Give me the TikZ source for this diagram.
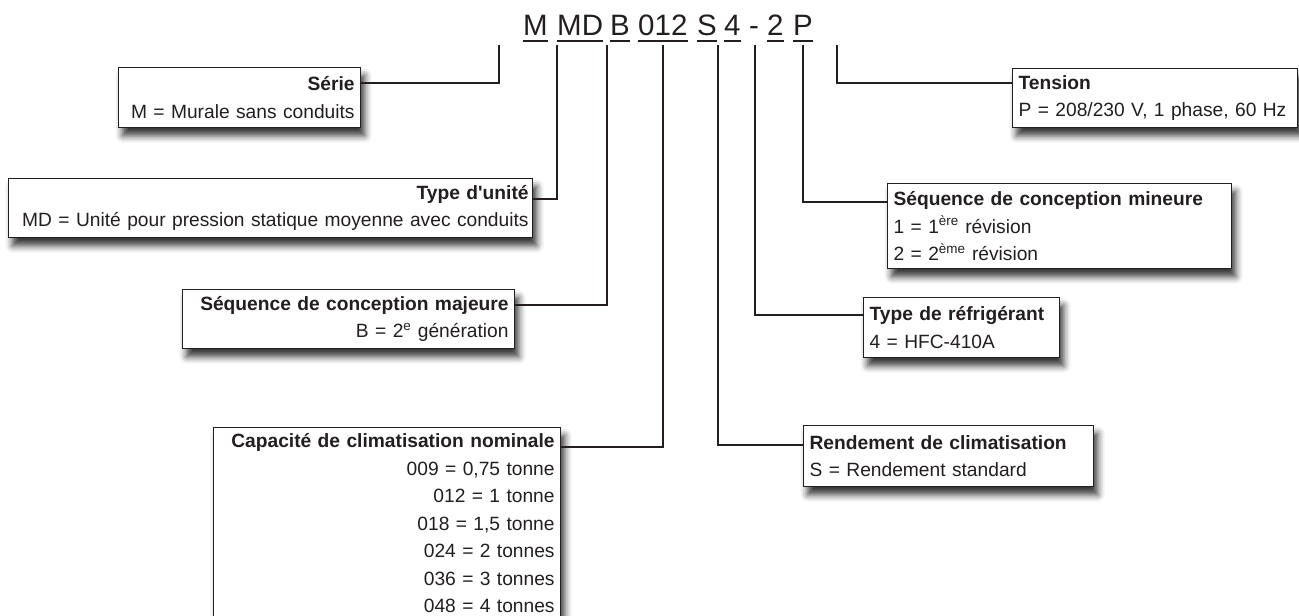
\documentclass[tikz,border=0pt]{standalone}
\usepackage{fontspec}
\setmainfont{Liberation Sans}
\usetikzlibrary{shadows.blur}
\definecolor{ink}{HTML}{231F20}

\begin{document}
\begin{tikzpicture}[x=1pt, y=-1pt,
    box/.style={draw=ink, line width=1.2pt, fill=white, text=ink, anchor=north west,
        inner xsep=6pt, inner ysep=6pt, font=\fontsize{19.2}{27.5}\selectfont,
        blur shadow={shadow xshift=4pt, shadow yshift=-8pt, shadow blur radius=7pt, shadow opacity=80}},
    code/.style={inner sep=0pt, anchor=base west, text=ink, font=\fontsize{29.5}{32}\selectfont},
    uline/.style={draw=ink, line width=2pt},
    link/.style={draw=ink, line width=2.5pt}]

\useasboundingbox (0,0) rectangle (1299,616);

% Code
    \node[code] (cM) at (523,35) {M};
    \node[code] (cMD) at (557,35) {MD};
    \node[code] (cB) at (610,35) {B};
    \node[code] (c012) at (638,35) {012};
    \node[code] (cS) at (697,35) {S};
    \node[code] (c4) at (724,35) {4};
    \node[code] (cDash) at (749,35) {-};
    \node[code] (c2) at (767,35) {2};
    \node[code] (cP) at (793,35) {P};

% Underlines
    \draw[uline] ([yshift=-6pt]cM.base west) -- ([yshift=-6pt]cM.base east);
    \draw[uline] ([yshift=-6pt]cMD.base west) -- ([yshift=-6pt]cMD.base east);
    \draw[uline] ([yshift=-6pt]cB.base west) -- ([yshift=-6pt]cB.base east);
    \draw[uline] ([yshift=-6pt]c012.base west) -- ([yshift=-6pt]c012.base east);
    \draw[uline] ([yshift=-6pt]cS.base west) -- ([yshift=-6pt]cS.base east);
    \draw[uline] ([yshift=-6pt]c4.base west) -- ([yshift=-6pt]c4.base east);
    \draw[uline] ([yshift=-6pt]c2.base west) -- ([yshift=-6pt]c2.base east);
    \draw[uline] ([yshift=-6pt]cP.base west) -- ([yshift=-6pt]cP.base east);

% Link ends
    \coordinate (tM) at (499,45);
    \coordinate (tMD) at (557,45);
    \coordinate (tB) at (607,45);
    \coordinate (t012) at (663,45);
    \coordinate (tS) at (718,45);
    \coordinate (t4) at (755,45);
    \coordinate (t2) at (803,45);
    \coordinate (tP) at (837,45);

% Boxes
    \node[box, align=right, text width=230pt, minimum height=60pt] (serie) at (118,67)
        {\textbf{Série}\\M = Murale sans conduits};
    \node[box, align=right, text width=516pt, inner xsep=4pt, minimum height=59pt] (unite) at (8,178)
        {\textbf{Type d\textquotesingle unité}\\MD = Unité pour pression statique moyenne avec conduits};
    \node[box, align=right, text width=320pt, minimum height=59pt] (majeure) at (182,289)
        {\textbf{Séquence de conception majeure}\\B = 2\textsuperscript{e} génération};
    \node[box, align=right, text width=335pt] (capacite) at (213,427)
        {\textbf{Capacité de climatisation nominale}\\009 = 0,75 tonne\\012 = 1 tonne\\018 = 1,5 tonne\\024 = 2 tonnes\\036 = 3 tonnes\\048 = 4 tonnes};
    \node[box, align=left, text width=278pt, minimum height=61pt] (rendement) at (803,425)
        {\textbf{Rendement de climatisation}\\S = Rendement standard};
    \node[box, align=left, text width=184pt, minimum height=60pt] (refrig) at (863,297)
        {\textbf{Type de réfrigérant}\\4 = HFC-410A};
    \node[box, align=left, text width=332pt, minimum height=85pt] (mineure) at (887,183)
        {\textbf{Séquence de conception mineure}\\1 = 1\textsuperscript{ère} révision\\2 = 2\textsuperscript{ème} révision};
    \node[box, align=left, text width=273pt, minimum height=59pt] (tension) at (1012,68)
        {\textbf{Tension}\\P = 208/230 V, 1 phase, 60 Hz};

% Links
    \draw[link] (tM) |- ([yshift=-16pt]serie.north east);
    \draw[link] (tMD) |- ([yshift=-21pt]unite.north east);
    \draw[link] (tB) |- ([yshift=-16pt]majeure.north east);
    \draw[link] (t012) |- ([yshift=-20pt]capacite.north east);
    \draw[link] (tS) |- ([yshift=-20pt]rendement.north west);
    \draw[link] (t4) |- ([yshift=-18pt]refrig.north west);
    \draw[link] (t2) |- ([yshift=-19pt]mineure.north west);
    \draw[link] (tP) |- ([yshift=-15pt]tension.north west);

\end{tikzpicture}
\end{document}
